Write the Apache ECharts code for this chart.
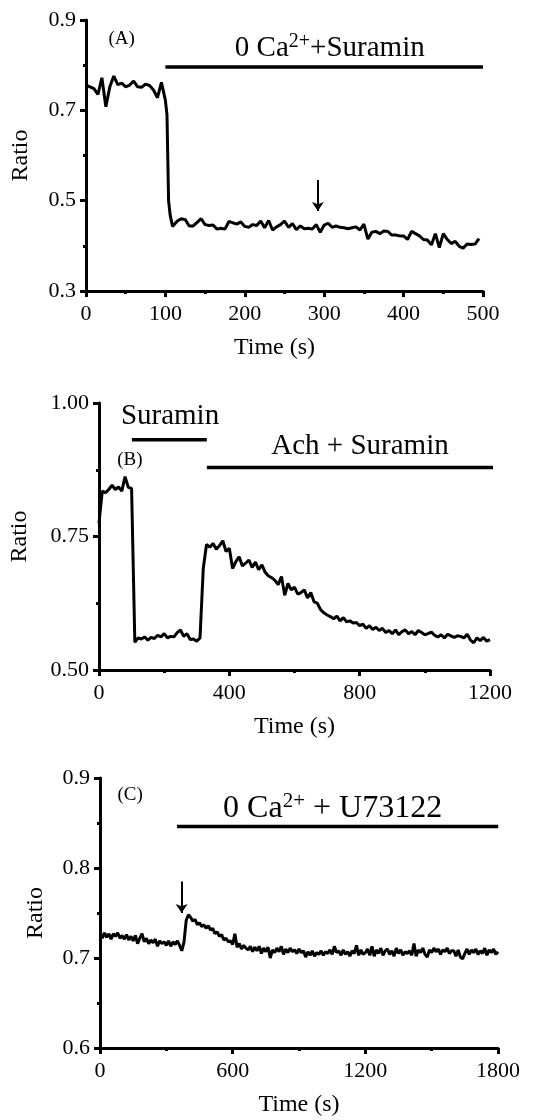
<!DOCTYPE html>
<html>
<head>
<meta charset="utf-8">
<script src="https://cdn.jsdelivr.net/npm/echarts@6/dist/echarts.min.js"></script>
<style>
  html, body { margin: 0; padding: 0; background: #fff; }
  #main { width: 535px; height: 1120px; }
</style>
</head>
<body>
<div id="main"></div>
<script>
// panel A: 0 Ca2+ + Suramin
var timeA = [0, 5, 10, 15, 20, 25, 30, 35, 40, 45, 50, 55, 60, 65, 70, 75, 80, 85, 90, 95,
  100, 102, 104, 106, 109, 115, 120, 125, 130, 135, 140, 145, 150, 155,
  160, 165, 170, 175, 180, 185, 190, 195, 200, 205, 210, 215, 220, 225, 230, 235,
  240, 245, 250, 255, 260, 265, 270, 275, 280, 285, 290, 295, 300, 305, 310, 315,
  320, 325, 330, 335, 340, 345, 350, 355, 360, 365, 370, 375, 380, 385, 390, 395,
  400, 405, 410, 415, 420, 425, 430, 435, 440, 445, 450, 455, 460, 465, 470, 475,
  480, 485, 490, 495];
var ratioA = [0.756, 0.752, 0.748, 0.735, 0.772, 0.708, 0.752, 0.776, 0.757, 0.760, 0.752, 0.756, 0.765, 0.752, 0.751, 0.758, 0.755, 0.745, 0.728, 0.762,
  0.722, 0.690, 0.500, 0.468, 0.443, 0.455, 0.460, 0.458, 0.444, 0.444, 0.452, 0.460, 0.447, 0.445,
  0.446, 0.437, 0.439, 0.437, 0.454, 0.451, 0.448, 0.453, 0.443, 0.441, 0.447, 0.445, 0.455, 0.440, 0.456, 0.435,
  0.442, 0.447, 0.455, 0.441, 0.449, 0.436, 0.444, 0.438, 0.439, 0.437, 0.447, 0.430, 0.446, 0.450, 0.441, 0.444,
  0.441, 0.440, 0.438, 0.440, 0.442, 0.435, 0.448, 0.415, 0.430, 0.432, 0.427, 0.433, 0.432, 0.424, 0.424, 0.422,
  0.422, 0.414, 0.432, 0.427, 0.422, 0.414, 0.413, 0.402, 0.427, 0.396, 0.427, 0.414, 0.405, 0.410, 0.399, 0.395,
  0.404, 0.403, 0.404, 0.416];

// panel B: Suramin, then Ach + Suramin
var timeB = [0, 10, 20, 30, 40, 50, 60, 70, 80, 90,
  100, 110, 120, 130, 140, 150, 160, 170, 180, 190,
  200, 210, 220, 230, 240, 250, 260, 270, 280, 290,
  300, 310, 320, 330, 340, 350, 360, 370, 380, 390,
  400, 410, 420, 430, 440, 450, 460, 470, 480, 490,
  500, 510, 520, 530, 540, 550, 560, 570, 580, 590,
  600, 610, 620, 630, 640, 650, 660, 670, 680, 690,
  700, 710, 720, 730, 740, 750, 760, 770, 780, 790,
  800, 810, 820, 830, 840, 850, 860, 870, 880, 890,
  900, 910, 920, 930, 940, 950, 960, 970, 980, 990,
  1000, 1010, 1020, 1030, 1040, 1050, 1060, 1070, 1080, 1090,
  1100, 1110, 1120, 1130, 1140, 1150, 1160, 1170, 1180, 1190,
  1200];
var ratioB = [0.775, 0.835, 0.832, 0.838, 0.846, 0.838, 0.843, 0.835, 0.862, 0.842,
  0.840, 0.552, 0.560, 0.558, 0.562, 0.556, 0.561, 0.559, 0.565, 0.562,
  0.568, 0.560, 0.563, 0.562, 0.570, 0.575, 0.563, 0.568, 0.557, 0.558,
  0.554, 0.560, 0.690, 0.735, 0.730, 0.737, 0.726, 0.733, 0.742, 0.722,
  0.728, 0.690, 0.703, 0.712, 0.695, 0.700, 0.706, 0.692, 0.702, 0.688,
  0.697, 0.683, 0.676, 0.673, 0.668, 0.660, 0.675, 0.640, 0.662, 0.650,
  0.655, 0.642, 0.645, 0.650, 0.635, 0.645, 0.628, 0.625, 0.613, 0.607,
  0.603, 0.600, 0.596, 0.601, 0.592, 0.598, 0.590, 0.592, 0.588, 0.589,
  0.583, 0.586, 0.578, 0.583, 0.576, 0.580, 0.574, 0.578, 0.570, 0.574,
  0.568, 0.575, 0.566, 0.572, 0.575, 0.568, 0.572, 0.566, 0.574, 0.570,
  0.566, 0.568, 0.571, 0.565, 0.562, 0.566, 0.560, 0.567, 0.564, 0.561,
  0.564, 0.563, 0.560, 0.567, 0.556, 0.551, 0.560, 0.555, 0.561, 0.554,
  0.557];

// panel C: 0 Ca2+ + U73122
var timeC = [0, 10, 20, 30, 40, 50, 60, 70, 80, 90,
  100, 110, 120, 130, 140, 150, 160, 170, 180, 190,
  200, 210, 220, 230, 240, 250, 260, 270, 280, 290,
  300, 310, 320, 330, 340, 350, 360, 370, 380, 390,
  400, 410, 420, 430, 440, 450, 460, 470, 480, 490,
  500, 510, 520, 530, 540, 550, 560, 570, 580, 590,
  600, 610, 620, 630, 640, 650, 660, 670, 680, 690,
  700, 710, 720, 730, 740, 750, 760, 770, 780, 790,
  800, 810, 820, 830, 840, 850, 860, 870, 880, 890,
  900, 910, 920, 930, 940, 950, 960, 970, 980, 990,
  1000, 1010, 1020, 1030, 1040, 1050, 1060, 1070, 1080, 1090,
  1100, 1110, 1120, 1130, 1140, 1150, 1160, 1170, 1180, 1190,
  1200, 1210, 1220, 1230, 1240, 1250, 1260, 1270, 1280, 1290,
  1300, 1310, 1320, 1330, 1340, 1350, 1360, 1370, 1380, 1390,
  1400, 1410, 1420, 1430, 1440, 1450, 1460, 1470, 1480, 1490,
  1500, 1510, 1520, 1530, 1540, 1550, 1560, 1570, 1580, 1590,
  1600, 1610, 1620, 1630, 1640, 1650, 1660, 1670, 1680, 1690,
  1700, 1710, 1720, 1730, 1740, 1750, 1760, 1770, 1780, 1790,
  1800];
var ratioC = [0.726, 0.722, 0.728, 0.723, 0.727, 0.721, 0.727, 0.724, 0.728, 0.722,
  0.725, 0.721, 0.726, 0.720, 0.724, 0.719, 0.725, 0.716, 0.722, 0.727,
  0.718, 0.722, 0.716, 0.720, 0.717, 0.721, 0.713, 0.719, 0.716, 0.718,
  0.714, 0.719, 0.713, 0.718, 0.715, 0.719, 0.714, 0.708, 0.718, 0.742,
  0.748, 0.745, 0.741, 0.743, 0.737, 0.739, 0.735, 0.737, 0.733, 0.736,
  0.731, 0.733, 0.727, 0.729, 0.724, 0.726, 0.720, 0.722, 0.718, 0.719,
  0.715, 0.727, 0.712, 0.716, 0.710, 0.714, 0.711, 0.709, 0.713, 0.707,
  0.712, 0.708, 0.713, 0.705, 0.711, 0.707, 0.712, 0.700, 0.709, 0.706,
  0.711, 0.707, 0.713, 0.704, 0.710, 0.706, 0.711, 0.707, 0.709, 0.705,
  0.710, 0.706, 0.708, 0.701, 0.707, 0.703, 0.708, 0.702, 0.706, 0.704,
  0.708, 0.703, 0.707, 0.705, 0.709, 0.704, 0.713, 0.706, 0.708, 0.703,
  0.709, 0.704, 0.707, 0.702, 0.708, 0.705, 0.714, 0.703, 0.709, 0.704,
  0.706, 0.710, 0.703, 0.713, 0.702, 0.709, 0.705, 0.711, 0.703, 0.708,
  0.710, 0.704, 0.708, 0.702, 0.711, 0.705, 0.709, 0.703, 0.707, 0.705,
  0.708, 0.703, 0.716, 0.702, 0.709, 0.706, 0.711, 0.704, 0.701, 0.709,
  0.706, 0.711, 0.707, 0.710, 0.704, 0.709, 0.707, 0.711, 0.705, 0.708,
  0.708, 0.702, 0.709, 0.701, 0.699, 0.705, 0.710, 0.704, 0.709, 0.706,
  0.710, 0.704, 0.708, 0.705, 0.711, 0.703, 0.709, 0.706, 0.710, 0.704,
  0.707];

// treatment bars: [start, end, level]
var barA = [100, 500, 0.796];
var barB1 = [101, 331, 0.931];
var barB2 = [331, 1243, 0.879];
var barC = [348, 1801, 0.846];

// arrows: [time, from, to]
var arrowA = [292, 0.546, 0.477];
var arrowC = [369, 0.785, 0.750];

var FONT = 'Liberation Serif';

function pairs(t, v) {
  return t.map(function (x, i) { return [x, v[i]]; });
}

function xAx(idx, max, interval, namePad) {
  return {
    type: 'value', gridIndex: idx, min: 0, max: max, interval: interval,
    name: 'Time (s)', nameLocation: 'middle', nameGap: 45,
    nameTextStyle: { fontFamily: FONT, fontSize: 24, color: '#000', padding: namePad || 0 },
    axisLine: { lineStyle: { color: '#000', width: 3 } },
    axisTick: { length: 6, lineStyle: { color: '#000', width: 3 } },
    minorTick: { show: true, splitNumber: 2, length: 3, lineStyle: { color: '#000', width: 3 } },
    axisLabel: {
      fontFamily: FONT, fontSize: 22, color: '#000', margin: 12,
      formatter: function (v) { return String(v); }
    },
    splitLine: { show: false }
  };
}

function yAx(idx, min, max, interval, digits, gap) {
  return {
    type: 'value', gridIndex: idx, min: min, max: max, interval: interval,
    name: 'Ratio', nameLocation: 'middle', nameGap: gap, nameRotate: 90,
    nameTextStyle: { fontFamily: FONT, fontSize: 24, color: '#000' },
    axisLine: { show: true, lineStyle: { color: '#000', width: 3 } },
    axisTick: { show: true, length: 6, lineStyle: { color: '#000', width: 3 } },
    minorTick: { show: true, splitNumber: 2, length: 3, lineStyle: { color: '#000', width: 3 } },
    axisLabel: {
      fontFamily: FONT, fontSize: 22, color: '#000', margin: 10,
      formatter: function (v) { return v.toFixed(digits); }
    },
    splitLine: { show: false }
  };
}

function richText(size, supSize) {
  return {
    n: { fontFamily: FONT, fontSize: size, color: '#000', lineHeight: size + 4 },
    sup: { fontFamily: FONT, fontSize: supSize, color: '#000', lineHeight: supSize, verticalAlign: 'top' }
  };
}

function note(x, y, text, size, supSize) {
  return {
    coord: [x, y], symbolSize: 0,
    label: {
      show: true, position: 'inside', formatter: text,
      fontFamily: FONT, fontSize: size, color: '#000',
      rich: richText(size, supSize || 20)
    }
  };
}

function arrow(a) {
  return {
    silent: true, symbol: ['none', 'arrow'], symbolSize: 9,
    label: { show: false },
    lineStyle: { color: '#000', width: 2, type: 'solid' },
    data: [[{ coord: [a[0], a[1]] }, { coord: [a[0], a[2]] }]]
  };
}

function trace(idx, t, v, extra) {
  var s = {
    type: 'line', xAxisIndex: idx, yAxisIndex: idx,
    data: pairs(t, v), showSymbol: false, symbol: 'none',
    lineStyle: { color: '#000', width: 3 }
  };
  return Object.assign(s, extra || {});
}

function bar(idx, b) {
  return {
    type: 'line', xAxisIndex: idx, yAxisIndex: idx, clip: false,
    data: [[b[0], b[2]], [b[1], b[2]]], showSymbol: false, symbol: 'none',
    lineStyle: { color: '#000', width: 3.5 }
  };
}

var chart = echarts.init(document.getElementById('main'), null, { renderer: 'canvas' });

var option = {
  animation: false,
  backgroundColor: '#fff',
  grid: [
    { left: 86, top: 20, width: 397, height: 271 },
    { left: 99, top: 403, width: 391, height: 267 },
    { left: 100, top: 778, width: 398, height: 270 }
  ],
  xAxis: [xAx(0, 500, 100, [0, 20, 0, 0]), xAx(1, 1200, 400), xAx(2, 1800, 600)],
  yAxis: [
    yAx(0, 0.3, 0.9, 0.2, 1, 53),
    yAx(1, 0.5, 1.0, 0.25, 2, 67),
    yAx(2, 0.6, 0.9, 0.1, 1, 52)
  ],
  series: [
    trace(0, timeA, ratioA, {
      markLine: arrow(arrowA),
      markPoint: {
        silent: true,
        data: [
          note(45, 0.858, '(A)', 19),
          note(307, 0.838, '{n|0 Ca}{sup|2+}{n|+Suramin}', 29, 20)
        ]
      }
    }),
    bar(0, barA),
    trace(1, timeB, ratioB, {
      markPoint: {
        silent: true,
        data: [
          note(95, 0.893, '(B)', 19),
          note(218, 0.974, 'Suramin', 29),
          note(801, 0.918, 'Ach + Suramin', 29)
        ]
      }
    }),
    bar(1, barB1),
    bar(1, barB2),
    trace(2, timeC, ratioC, {
      markLine: arrow(arrowC),
      markPoint: {
        silent: true,
        data: [
          note(136, 0.8815, '(C)', 19),
          note(1052, 0.866, '{n|0 Ca}{sup|2+}{n| + U73122}', 32, 21)
        ]
      }
    }),
    bar(2, barC)
  ]
};

chart.setOption(option);
window.addEventListener('resize', function () { chart.resize(); });
</script>
</body>
</html>
